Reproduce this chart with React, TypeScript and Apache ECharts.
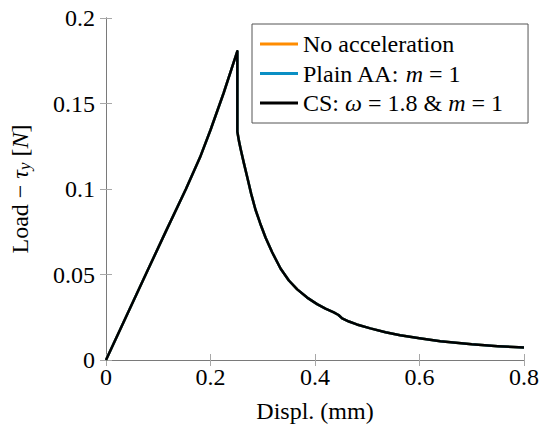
import React, { useEffect, useRef } from "react";
import * as echarts from "echarts";

const dispX = [0, 0.038, 0.076, 0.115, 0.153, 0.18, 0.2, 0.225, 0.2514, 0.2514, 0.2545, 0.258, 0.264, 0.2706, 0.278, 0.286, 0.295, 0.3055, 0.318, 0.334, 0.35, 0.366, 0.385, 0.404, 0.42, 0.436, 0.445, 0.452, 0.465, 0.48, 0.506, 0.535, 0.563, 0.6, 0.64, 0.7, 0.75, 0.8];
const loadNoAcc = [0, 0.025, 0.05, 0.0755, 0.1, 0.1185, 0.1345, 0.156, 0.1806, 0.1335, 0.128, 0.123, 0.115, 0.1066, 0.097, 0.088, 0.08, 0.0715, 0.063, 0.0535, 0.0465, 0.0413, 0.0365, 0.0327, 0.03, 0.0278, 0.0263, 0.0243, 0.0225, 0.0208, 0.0185, 0.0162, 0.0145, 0.0127, 0.011, 0.0092, 0.0081, 0.0073];
const loadPlainAA = [0, 0.025, 0.05, 0.0755, 0.1, 0.1185, 0.1345, 0.156, 0.1806, 0.1335, 0.128, 0.123, 0.115, 0.1066, 0.097, 0.088, 0.08, 0.0715, 0.063, 0.0535, 0.0465, 0.0413, 0.0365, 0.0327, 0.03, 0.0278, 0.0263, 0.0243, 0.0225, 0.0208, 0.0185, 0.0162, 0.0145, 0.0127, 0.011, 0.0092, 0.0081, 0.0073];
const loadCS = [0, 0.025, 0.05, 0.0755, 0.1, 0.1185, 0.1345, 0.156, 0.1806, 0.1335, 0.128, 0.123, 0.115, 0.1066, 0.097, 0.088, 0.08, 0.0715, 0.063, 0.0535, 0.0465, 0.0413, 0.0365, 0.0327, 0.03, 0.0278, 0.0263, 0.0243, 0.0225, 0.0208, 0.0185, 0.0162, 0.0145, 0.0127, 0.011, 0.0092, 0.0081, 0.0073];

const seriesNames = ["No acceleration", "Plain AA", "CS"];
const legendLabels = ["No acceleration", "Plain AA: {i|m} = 1", "CS: {i|ω} = 1.8 & {i|m} = 1"];
const seriesColors = ["#ff8c00", "#0a8fc4", "#000000"];
const xTicks = [0, 0.2, 0.4, 0.6, 0.8];
const yTicks = [0, 0.05, 0.1, 0.15, 0.2];

const FONT = "'Liberation Serif', 'Times New Roman', 'DejaVu Serif', serif";
const FS = 24;

export default function App() {
  const ref = useRef<HTMLDivElement>(null);
  useEffect(() => {
    if (!ref.current) return;
    const chart = echarts.init(ref.current, null, { renderer: "svg" });
    const values = [loadNoAcc, loadPlainAA, loadCS];
    const fmtX = (v: number) => {
      const i = xTicks.findIndex((t) => Math.abs(t - v) < 1e-9);
      return i >= 0 ? String(xTicks[i]) : "";
    };
    const fmtY = (v: number) => {
      const i = yTicks.findIndex((t) => Math.abs(t - v) < 1e-9);
      return i >= 0 ? String(yTicks[i]) : "";
    };
    const frame = "#7a7a7a";
    const tickColor = "#a8a8a8";
    chart.setOption({
      animation: false,
      textStyle: { fontFamily: FONT },
      grid: { left: 105, right: 18, top: 18, bottom: 63 },
      legend: {
        orient: "vertical",
        left: 252,
        top: 24,
        data: seriesNames,
        icon: "rect",
        itemWidth: 38,
        itemHeight: 3,
        itemGap: 5.5,
        padding: [8, 25, 8, 8],
        backgroundColor: "#ffffff",
        borderColor: "#555555",
        borderWidth: 1,
        borderRadius: 0,
        formatter: (name: string) => legendLabels[seriesNames.indexOf(name)],
        textStyle: {
          fontFamily: FONT,
          fontSize: FS,
          lineHeight: 24,
          color: "#000",
          rich: {
            i: { fontFamily: FONT, fontSize: FS, fontStyle: "italic", color: "#000" },
          },
        },
      },
      xAxis: [
        {
          type: "value",
          min: 0,
          max: 0.8,
          interval: 0.2,
          name: "Displ. (mm)",
          nameLocation: "middle",
          nameGap: 39,
          nameTextStyle: { fontFamily: FONT, fontSize: FS, color: "#000" },
          axisLine: { show: true, lineStyle: { color: frame, width: 1 } },
          axisTick: { show: true, inside: true, length: 6, lineStyle: { color: tickColor } },
          axisLabel: { fontFamily: FONT, fontSize: FS, color: "#000", margin: 5, formatter: fmtX },
          splitLine: { show: false },
        },
        {
          type: "value",
          position: "top",
          min: 0,
          max: 0.8,
          interval: 0.2,
          axisLine: { show: true, lineStyle: { color: frame, width: 1 } },
          axisTick: { show: true, inside: true, length: 6, lineStyle: { color: tickColor } },
          axisLabel: { show: false },
          splitLine: { show: false },
        },
      ],
      yAxis: [
        {
          type: "value",
          min: 0,
          max: 0.2,
          interval: 0.05,
          name: "Load − {i|τ}{s|y} [{i|N}]",
          nameLocation: "middle",
          nameGap: 73,
          nameTextStyle: {
            fontFamily: FONT,
            fontSize: FS,
            color: "#000",
            rich: {
              i: { fontFamily: FONT, fontSize: FS, fontStyle: "italic", color: "#000" },
              s: { fontFamily: FONT, fontSize: 17, fontStyle: "italic", color: "#000", padding: [9, 0, 0, 0] },
            },
          },
          axisLine: { show: true, lineStyle: { color: frame, width: 1 } },
          axisTick: { show: true, inside: true, length: 6, lineStyle: { color: tickColor } },
          axisLabel: { fontFamily: FONT, fontSize: FS, color: "#000", margin: 11, formatter: fmtY },
          splitLine: { show: false },
        },
        {
          type: "value",
          position: "right",
          min: 0,
          max: 0.2,
          interval: 0.05,
          axisLine: { show: true, lineStyle: { color: frame, width: 1 } },
          axisTick: { show: true, inside: true, length: 6, lineStyle: { color: tickColor } },
          axisLabel: { show: false },
          splitLine: { show: false },
        },
      ],
      series: seriesNames.map((name, k) => ({
        name,
        type: "line",
        xAxisIndex: 0,
        yAxisIndex: 0,
        showSymbol: false,
        symbol: "none",
        data: dispX.map((x, i) => [x, values[k][i]]),
        itemStyle: { color: seriesColors[k] },
        lineStyle: { color: seriesColors[k], width: 2.5, join: "round" },
        z: 2 + k,
      })),
    });
    return () => chart.dispose();
  }, []);
  return <div ref={ref} style={{ width: 542, height: 428, position: "absolute", left: 0, top: 0 }} />;
}
